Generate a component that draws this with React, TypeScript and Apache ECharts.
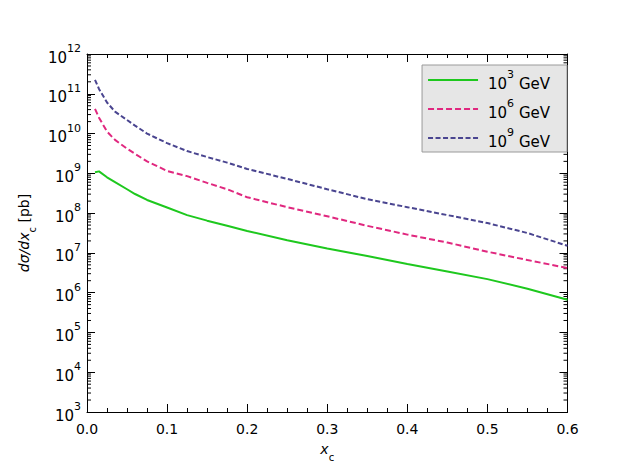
import React, { useEffect, useRef } from "react";
import * as echarts from "echarts";

const X_VALUES = [0.01, 0.015, 0.025, 0.035, 0.05, 0.06, 0.075, 0.1, 0.125, 0.15, 0.175, 0.2, 0.25, 0.3, 0.35, 0.4, 0.45, 0.5, 0.55, 0.6];
const E3_VALUES = [1.07e9, 1.12e9, 7.94e8, 6.03e8, 3.98e8, 3.02e8, 2.14e8, 1.38e8, 8.91e7, 6.46e7, 4.79e7, 3.55e7, 2.09e7, 1.29e7, 8.32e6, 5.25e6, 3.39e6, 2.19e6, 1.26e6, 6.61e5];
const E6_VALUES = [4.17e10, 2.51e10, 1.12e10, 6.92e9, 4.17e9, 3.09e9, 2.0e9, 1.15e9, 8.51e8, 5.75e8, 3.98e8, 2.51e8, 1.41e8, 8.32e7, 4.79e7, 2.88e7, 1.82e7, 1.07e7, 6.61e6, 4.17e6];
const E9_VALUES = [2.24e11, 1.32e11, 6.03e10, 3.55e10, 2.19e10, 1.58e10, 1.0e10, 5.75e9, 3.63e9, 2.57e9, 1.86e9, 1.29e9, 7.24e8, 3.98e8, 2.24e8, 1.41e8, 8.91e7, 5.62e7, 3.16e7, 1.51e7];
const SERIES_NAMES = ["10^3 GeV", "10^6 GeV", "10^9 GeV"];
const SERIES_EXP = ["3", "6", "9"];
const X_MIN = 0;
const X_MAX = 0.6;
const Y_MIN = 1e3;
const Y_MAX = 1e12;
const MANTISSAS = [2, 3, 4, 5, 6, 7, 8, 9];
const DECADES = [3, 4, 5, 6, 7, 8, 9, 10, 11];

const minorTicks: number[][] = [];
DECADES.forEach((d) => MANTISSAS.forEach((m) => minorTicks.push([0, m * Math.pow(10, d)])));

const FONT = "DejaVu Sans";

export default function App() {
  const ref = useRef<HTMLDivElement>(null);
  useEffect(() => {
    if (!ref.current) return;
    const chart = echarts.init(ref.current, null, { renderer: "svg" });
    const zip = (ys: number[]) => X_VALUES.map((x, i) => [x, ys[i]]);
    const supRich = {
      mant: { fontSize: 15, fontFamily: FONT, color: "#000", verticalAlign: "bottom", lineHeight: 22 },
      sup: { fontSize: 11, fontFamily: FONT, color: "#000", verticalAlign: "top", lineHeight: 22 },
    };
    const xAxisCommon = {
      type: "value",
      min: X_MIN,
      max: X_MAX,
      interval: 0.1,
      axisLine: { show: true, onZero: false, lineStyle: { color: "#000", width: 1 } },
      axisTick: { show: true, inside: true, length: 8, lineStyle: { color: "#000" } },
      minorTick: { show: true, splitNumber: 4, length: 4, lineStyle: { color: "#000" } },
      splitLine: { show: false },
    };
    const yAxisCommon = {
      type: "log",
      logBase: 10,
      min: Y_MIN,
      max: Y_MAX,
      splitNumber: 9,
      axisLine: { show: true, onZero: false, lineStyle: { color: "#000", width: 1 } },
      axisTick: { show: true, inside: true, length: 8, lineStyle: { color: "#000" } },
      minorTick: { show: false },
      splitLine: { show: false },
    };
    chart.setOption({
      animation: false,
      backgroundColor: "#fff",
      grid: { left: 87, right: 55.5, top: 54, bottom: 54, containLabel: false },
      legend: {
        data: SERIES_NAMES,
        orient: "vertical",
        right: 56,
        top: 65,
        backgroundColor: "#e6e6e6",
        borderColor: "#9a9a9a",
        borderWidth: 1,
        borderRadius: 0,
        padding: [4, 17, 3, 5],
        itemGap: 7,
        itemWidth: 50,
        itemHeight: 14,
        itemStyle: { opacity: 0 },
        formatter: (name: string) => {
          const i = SERIES_NAMES.indexOf(name);
          return `{mant|10}{sup|${SERIES_EXP[i]}}{mant| GeV}`;
        },
        textStyle: { fontSize: 15, fontFamily: FONT, color: "#000", rich: supRich, padding: [0, 0, 0, 5] },
      },
      xAxis: [
        {
          ...xAxisCommon,
          position: "bottom",
          name: "{i|x}{sub|c}",
          nameLocation: "middle",
          nameGap: 30,
          nameTextStyle: {
            rich: {
              i: { fontSize: 14, fontFamily: FONT, fontStyle: "italic", color: "#000", verticalAlign: "top", lineHeight: 20 },
              sub: { fontSize: 10, fontFamily: FONT, color: "#000", verticalAlign: "bottom", lineHeight: 20 },
            },
          },
          axisLabel: {
            show: true,
            margin: 10,
            fontSize: 14,
            fontFamily: FONT,
            color: "#000",
            formatter: (v: number) => v.toFixed(1),
          },
        },
        {
          ...xAxisCommon,
          position: "top",
          axisLabel: { show: false },
        },
      ],
      yAxis: [
        {
          ...yAxisCommon,
          position: "left",
          name: "{i|dσ/dx}{sub|c}{n| [pb]}",
          nameLocation: "middle",
          nameGap: 41,
          nameRotate: 90,
          nameTextStyle: {
            rich: {
              i: { fontSize: 14, fontFamily: FONT, fontStyle: "italic", color: "#000", verticalAlign: "top", lineHeight: 20 },
              sub: { fontSize: 10, fontFamily: FONT, color: "#000", verticalAlign: "bottom", lineHeight: 20 },
              n: { fontSize: 14, fontFamily: FONT, color: "#000", verticalAlign: "top", lineHeight: 20 },
            },
          },
          axisLabel: {
            show: true,
            margin: 6,
            fontSize: 15,
            fontFamily: FONT,
            color: "#000",
            formatter: (v: number) => `{mant|10}{sup|${Math.round(Math.log10(v))}}`,
            rich: supRich,
          },
        },
        {
          ...yAxisCommon,
          position: "right",
          axisLabel: { show: false },
        },
      ],
      series: [
        {
          name: SERIES_NAMES[0],
          type: "line",
          data: zip(E3_VALUES),
          showSymbol: false,
          symbol: "none",
          color: "#1ec81e",
          lineStyle: { color: "#1ec81e", width: 2, type: "solid" },
        },
        {
          name: SERIES_NAMES[1],
          type: "line",
          data: zip(E6_VALUES),
          showSymbol: false,
          symbol: "none",
          color: "#e0287f",
          lineStyle: { color: "#e0287f", width: 2, type: [6, 3] },
        },
        {
          name: SERIES_NAMES[2],
          type: "line",
          data: zip(E9_VALUES),
          showSymbol: false,
          symbol: "none",
          color: "#4a4590",
          lineStyle: { color: "#4a4590", width: 2, type: [5, 2.5] },
        },
        {
          type: "custom",
          silent: true,
          clip: false,
          data: minorTicks,
          renderItem: (params: any, api: any) => {
            const v = api.value(1);
            const p = api.coord([X_MIN, v]);
            const q = api.coord([X_MAX, v]);
            return {
              type: "group",
              children: [
                { type: "line", shape: { x1: p[0], y1: p[1], x2: p[0] + 4, y2: p[1] }, style: { stroke: "#000", lineWidth: 1 } },
                { type: "line", shape: { x1: q[0] - 4, y1: q[1], x2: q[0], y2: q[1] }, style: { stroke: "#000", lineWidth: 1 } },
              ],
            };
          },
        },
      ],
    });
    return () => chart.dispose();
  }, []);
  return <div ref={ref} style={{ position: "absolute", left: 0, top: 0, width: 623, height: 467 }} />;
}
